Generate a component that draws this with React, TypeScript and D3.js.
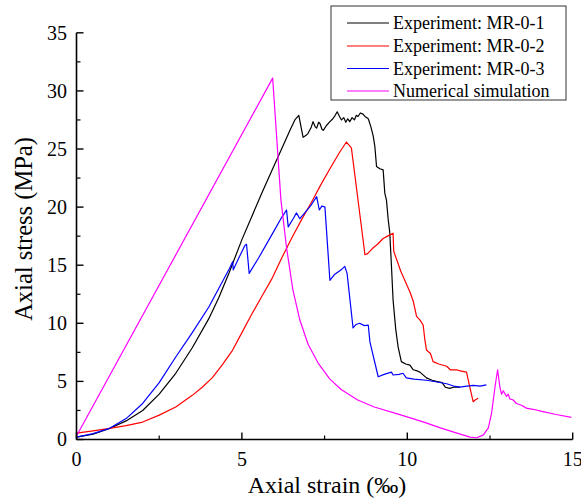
import React from "react";
import * as d3 from "d3";

const xTicks = [0, 5, 10, 15];
const yTicks = [0, 5, 10, 15, 20, 25, 30, 35];
const xMinor = [2.5, 7.5, 12.5];
const yMinor = [2.5, 7.5, 12.5, 17.5, 22.5, 27.5, 32.5];

const seriesNames = [
  "Experiment: MR-0-1",
  "Experiment: MR-0-2",
  "Experiment: MR-0-3",
  "Numerical simulation",
];
const seriesColors = ["#000000", "#ff0000", "#0000ff", "#ff00ff"];

const mr01: [number, number][] = [
  [0, 0.2], [0.5, 0.45], [1.0, 0.95], [1.5, 1.6], [2.0, 2.5], [2.5, 3.9], [3.0, 5.7],
  [3.5, 7.9], [4.0, 10.4], [4.3, 12.2], [4.62, 14.4], [5.0, 17.2], [5.3, 19.2],
  [5.6, 21.2], [5.9, 23.1], [6.2, 25.0], [6.45, 26.6], [6.6, 27.5], [6.72, 27.9],
  [6.85, 26.0], [6.95, 26.2], [7.0, 26.35], [7.1, 26.9], [7.15, 27.35], [7.22, 26.9],
  [7.26, 26.8], [7.32, 27.3], [7.36, 27.2], [7.42, 26.7], [7.46, 26.6], [7.55, 27.0],
  [7.66, 27.35], [7.75, 27.6], [7.82, 27.9], [7.88, 28.2], [7.95, 27.8], [8.01, 27.5],
  [8.08, 27.7], [8.14, 27.3], [8.2, 27.6], [8.26, 27.35], [8.33, 27.7], [8.4, 27.5],
  [8.46, 27.9], [8.51, 27.8], [8.58, 28.1], [8.66, 28.0], [8.72, 27.8], [8.82, 27.6],
  [8.9, 26.9], [8.97, 26.1], [9.02, 25.2], [9.07, 23.5], [9.17, 23.3], [9.27, 23.2],
  [9.32, 21.2], [9.37, 20.6], [9.42, 19.0], [9.47, 17.8], [9.52, 15.0], [9.57, 12.0],
  [9.65, 9.5], [9.72, 8.0], [9.82, 6.7], [9.95, 6.5], [10.08, 6.4], [10.18, 6.0],
  [10.3, 5.9], [10.38, 5.8], [10.58, 5.3], [10.75, 5.1], [10.88, 5.0], [11.05, 4.9],
  [11.15, 4.5], [11.28, 4.4], [11.4, 4.5], [11.59, 4.5],
];

const mr02: [number, number][] = [
  [0, 0.55], [0.5, 0.75], [1.0, 0.96], [1.5, 1.2], [2.0, 1.5], [2.5, 2.1], [3.0, 2.8],
  [3.5, 3.8], [3.8, 4.5], [4.1, 5.3], [4.4, 6.4], [4.7, 7.6], [5.0, 9.2], [5.3, 10.8],
  [5.6, 12.3], [5.9, 13.8], [6.2, 15.6], [6.5, 17.3], [6.8, 18.9], [7.1, 20.4],
  [7.4, 22.0], [7.7, 23.5], [7.95, 24.7], [8.16, 25.6], [8.31, 25.1], [8.72, 15.9],
  [8.8, 16.0], [8.97, 16.5], [9.1, 16.8], [9.27, 17.3], [9.4, 17.5], [9.57, 17.75],
  [9.59, 16.2], [9.8, 14.5], [10.08, 12.7], [10.18, 11.9], [10.28, 10.6], [10.38, 10.3],
  [10.48, 9.85], [10.53, 8.6], [10.58, 7.7], [10.7, 7.4], [10.78, 6.7], [10.95, 6.5],
  [11.19, 6.3], [11.3, 6.0], [11.49, 6.0], [11.6, 5.9], [11.79, 5.8], [11.89, 4.5],
  [11.99, 3.25], [12.05, 3.4], [12.14, 3.55],
];

const mr03: [number, number][] = [
  [0, 0.2], [0.5, 0.5], [1.0, 0.96], [1.5, 1.8], [2.0, 3.1], [2.5, 4.9], [3.0, 7.1],
  [3.5, 9.2], [4.0, 11.4], [4.3, 13.0], [4.62, 14.7], [4.72, 15.3], [4.74, 14.6],
  [4.92, 15.7], [5.09, 16.7], [5.14, 16.8], [5.22, 14.3], [5.5, 15.6], [5.98, 18.0],
  [6.2, 19.1], [6.35, 19.75], [6.4, 18.3], [6.55, 19.0], [6.65, 19.5], [6.75, 19.0],
  [6.9, 19.5], [7.1, 20.2], [7.26, 20.9], [7.34, 19.75], [7.42, 20.1], [7.51, 20.0],
  [7.66, 13.7], [7.8, 14.2], [8.0, 14.6], [8.11, 14.9], [8.18, 14.3], [8.36, 9.6],
  [8.45, 9.9], [8.56, 10.0], [8.7, 9.8], [8.82, 9.85], [8.87, 8.4], [9.12, 5.4],
  [9.3, 5.6], [9.52, 5.8], [9.57, 5.55], [9.75, 5.6], [9.87, 5.7], [9.97, 5.3],
  [10.2, 5.2], [10.58, 5.1], [10.9, 4.95], [11.19, 4.8], [11.4, 4.6], [11.59, 4.5],
  [11.8, 4.6], [12.0, 4.65], [12.2, 4.6], [12.39, 4.7],
];

const simulation: [number, number][] = [
  [0, 0.3], [5.93, 31.1], [6.18, 20.6], [6.35, 16.5], [6.54, 12.9], [6.75, 10.3],
  [7.0, 8.2], [7.3, 6.6], [7.66, 5.2], [8.0, 4.3], [8.5, 3.4], [9.0, 2.8], [9.7, 2.2],
  [10.5, 1.5], [11.0, 1.0], [11.5, 0.55], [11.9, 0.2], [12.1, 0.15], [12.3, 0.4],
  [12.45, 1.0], [12.55, 2.3], [12.65, 4.5], [12.73, 6.0], [12.8, 4.5], [12.85, 3.9],
  [12.9, 4.2], [13.0, 3.7], [13.05, 3.9], [13.1, 3.5], [13.2, 3.4], [13.3, 3.1],
  [13.45, 2.95], [13.6, 2.7], [13.8, 2.6], [14.1, 2.4], [14.5, 2.15], [14.96, 1.9],
];

const allSeries = [mr01, mr02, mr03, simulation];

const W = 581;
const H = 503;
const x0 = 76.5, x1 = 572.7, y0 = 439.5, y1 = 32.8;

export default function App() {
  const x = d3.scaleLinear().domain([0, 15]).range([x0, x1]);
  const y = d3.scaleLinear().domain([0, 35]).range([y0, y1]);
  const line = d3
    .line<[number, number]>()
    .x((d) => x(d[0]))
    .y((d) => y(d[1]));
  const font = "'Liberation Serif', 'Times New Roman', serif";

  const legendX = 331, legendY = 6, legendW = 235, legendH = 94;
  const rowY = [23, 46, 68.5, 91];

  return (
    <svg
      width={W}
      height={H}
      style={{ position: "absolute", left: 0, top: 0, background: "#fff" }}
      fontFamily={font}
    >
      <rect x={0} y={0} width={W} height={H} fill="#fff" />
      {allSeries.map((s, i) => (
        <path
          key={i}
          d={line(s) || ""}
          fill="none"
          stroke={seriesColors[i]}
          strokeWidth={1.2}
          strokeLinejoin="round"
        />
      ))}
      {/* axes */}
      <line x1={x0} x2={x0} y1={y1} y2={y0} stroke="#000" strokeWidth={1.6} />
      <line x1={x0} x2={x1} y1={y0} y2={y0} stroke="#000" strokeWidth={1.6} />
      {yTicks.map((t) => (
        <g key={"yt" + t}>
          <line x1={x0} x2={x0 + 7} y1={y(t)} y2={y(t)} stroke="#000" strokeWidth={1.4} />
          <text x={67} y={y(t)} dy="0.34em" textAnchor="end" fontSize={20}>
            {t}
          </text>
        </g>
      ))}
      {yMinor.map((t) => (
        <line key={"ym" + t} x1={x0} x2={x0 + 4} y1={y(t)} y2={y(t)} stroke="#000" strokeWidth={1.2} />
      ))}
      {xTicks.map((t) => (
        <g key={"xt" + t}>
          <line x1={x(t)} x2={x(t)} y1={y0} y2={y0 - 7} stroke="#000" strokeWidth={1.4} />
          <text x={x(t)} y={466} textAnchor="middle" fontSize={20}>
            {t}
          </text>
        </g>
      ))}
      {xMinor.map((t) => (
        <line key={"xm" + t} x1={x(t)} x2={x(t)} y1={y0} y2={y0 - 4} stroke="#000" strokeWidth={1.2} />
      ))}
      <text x={327} y={493} textAnchor="middle" fontSize={24}>
        Axial strain (‰)
      </text>
      <text
        transform={`translate(32, 229) rotate(-90)`}
        textAnchor="middle"
        fontSize={24.5}
      >
        Axial stress (MPa)
      </text>
      {/* legend */}
      <rect
        x={legendX}
        y={legendY}
        width={legendW}
        height={legendH}
        fill="#fff"
        stroke="#333"
        strokeWidth={1}
      />
      {seriesNames.map((n, i) => (
        <g key={n}>
          <line x1={347} x2={389} y1={rowY[i]} y2={rowY[i]} stroke={seriesColors[i]} strokeWidth={1.2} />
          <text x={393} y={rowY[i] + 6} fontSize={18}>
            {n}
          </text>
        </g>
      ))}
    </svg>
  );
}
